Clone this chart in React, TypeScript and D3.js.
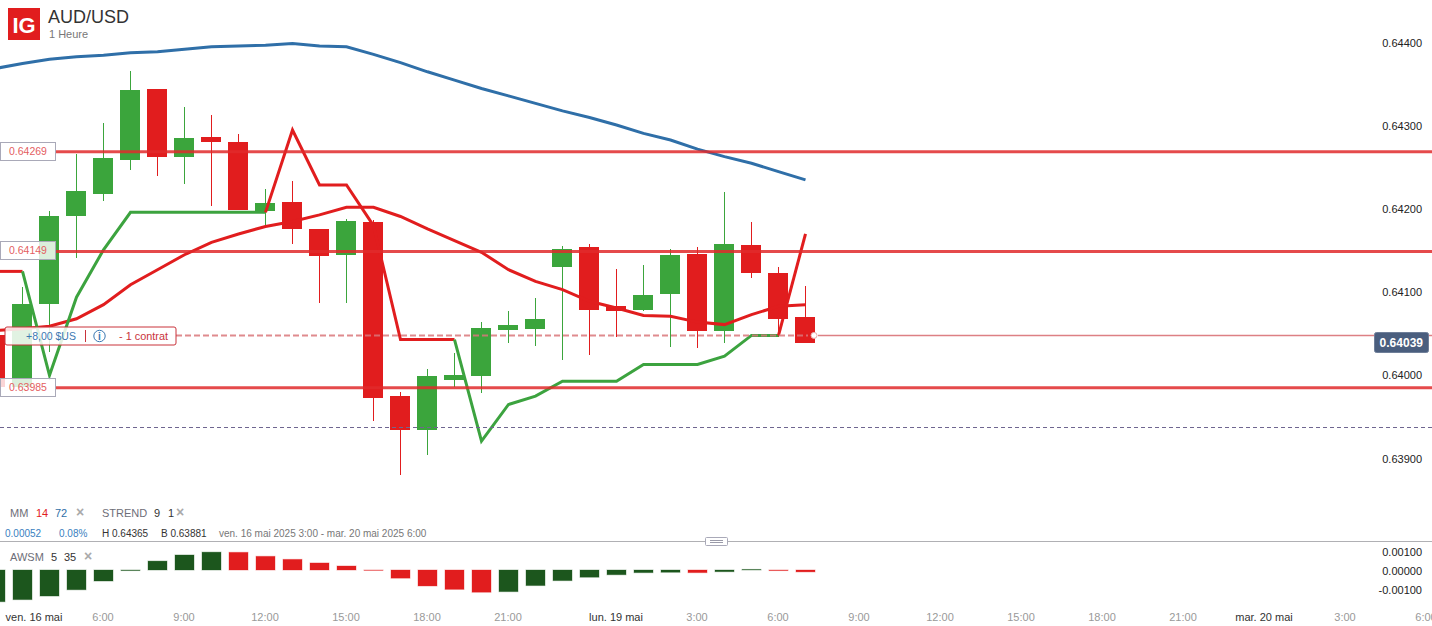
import * as d3 from "d3";

const FONT = "Arial, 'Liberation Sans', sans-serif";
const GREEN = "#3ba53c";
const RED = "#e11d1e";
const BLUE = "#2f6fa8";
const DARKGREEN = "#1c561d";

// hourly candles, first one (index -1) is cut by the left edge
const firstIndex = -1;
const opens = [0.64049, 0.63986, 0.64086, 0.64192, 0.64219, 0.64259, 0.64345, 0.64263, 0.64287, 0.64281, 0.64198, 0.64209, 0.64176, 0.64145, 0.64185, 0.63976, 0.63935, 0.63995, 0.64, 0.64055, 0.64056, 0.64131, 0.64155, 0.64084, 0.64079, 0.64098, 0.64146, 0.64054, 0.64157, 0.64124, 0.64071];
const closes = [0.63986, 0.64086, 0.64192, 0.64222, 0.64262, 0.64344, 0.64263, 0.64286, 0.64281, 0.64199, 0.64208, 0.64177, 0.64144, 0.64186, 0.63973, 0.63935, 0.64, 0.64001, 0.64058, 0.64061, 0.64068, 0.64152, 0.64079, 0.64078, 0.64097, 0.64145, 0.64054, 0.64158, 0.64124, 0.64068, 0.64039];
const highs = [0.64055, 0.64107, 0.64198, 0.64267, 0.64304, 0.64366, 0.64345, 0.64323, 0.64313, 0.64291, 0.64224, 0.64234, 0.64176, 0.64188, 0.64187, 0.6398, 0.64008, 0.64027, 0.64065, 0.64078, 0.64094, 0.64156, 0.64158, 0.64128, 0.64133, 0.64152, 0.64155, 0.64221, 0.64185, 0.64131, 0.64108];
const lows = [0.6398, 0.63979, 0.64029, 0.64142, 0.6421, 0.64247, 0.6424, 0.64231, 0.64204, 0.64199, 0.6418, 0.64158, 0.64088, 0.64088, 0.63945, 0.63881, 0.63905, 0.63987, 0.63979, 0.64039, 0.64036, 0.64019, 0.64025, 0.64047, 0.64078, 0.64035, 0.64033, 0.64039, 0.64118, 0.64047, 0.64039];

const mm14 = [0.64054, 0.64056, 0.64059, 0.64068, 0.64085, 0.64109, 0.64127, 0.64145, 0.6416, 0.6417, 0.64179, 0.64185, 0.64193, 0.64202, 0.64202, 0.64191, 0.64176, 0.64162, 0.64148, 0.64127, 0.64113, 0.64103, 0.64089, 0.64081, 0.64072, 0.64071, 0.64064, 0.64061, 0.64073, 0.64083, 0.64085];
const mm72 = [0.64369, 0.64375, 0.6438, 0.64383, 0.64385, 0.64388, 0.64389, 0.64392, 0.64395, 0.64396, 0.64397, 0.64399, 0.64396, 0.64395, 0.64386, 0.64376, 0.64365, 0.64355, 0.64345, 0.64336, 0.64327, 0.64318, 0.6431, 0.64301, 0.64291, 0.64283, 0.64272, 0.64263, 0.64255, 0.64245, 0.64235];
const strend = [0.64125, 0.64125, 0.64, 0.64094, 0.64151, 0.64196, 0.64196, 0.64196, 0.64196, 0.64196, 0.64196, 0.64295, 0.64229, 0.64229, 0.6418, 0.64043, 0.64043, 0.64043, 0.63921, 0.63965, 0.63975, 0.63993, 0.63993, 0.63993, 0.64013, 0.64013, 0.64013, 0.64023, 0.64048, 0.64048, 0.6417];
const strendUp = [0, 0, 1, 1, 1, 1, 1, 1, 1, 1, 1, 0, 0, 0, 0, 0, 0, 0, 1, 1, 1, 1, 1, 1, 1, 1, 1, 1, 1, 1, 0];

const awsm = [-0.00167, -0.00156, -0.00137, -0.00104, -0.00058, -0.00003, 0.00047, 0.00079, 0.00094, 0.00093, 0.00072, 0.00056, 0.00037, 0.00021, -0.00002, -0.00043, -0.00084, -0.00102, -0.00117, -0.00114, -0.00082, -0.00056, -0.00038, -0.00025, -0.00014, -0.00012, -0.00014, -0.00009, 0.00003, -0.00003, -0.0001];

const priceTicks = [0.644, 0.643, 0.642, 0.641, 0.64, 0.639];
const awsmTicks = [0.001, 0, -0.001];
const levels = [0.64269, 0.64149, 0.63985];
const lastPrice = 0.64039;
const positionPrice = 0.64048;
const lowerGuide = 0.63938;

const timeLabels = ["ven. 16 mai", "6:00", "9:00", "12:00", "15:00", "18:00", "21:00", "lun. 19 mai", "3:00", "6:00", "9:00", "12:00", "15:00", "18:00", "21:00", "mar. 20 mai", "3:00", "6:00"];
const timeIndex = [0, 3, 6, 9, 12, 15, 18, 22, 25, 28, 31, 34, 37, 40, 43, 46, 49, 52];

const x = d3.scaleLinear().domain([0, 52]).range([22, 22 + 27 * 52]);
const y = d3.scaleLinear().domain([0.644, 0.639]).range([42.7, 458.5]);
const yA = d3.scaleLinear().domain([0.001, -0.001]).range([551, 589]);

// candle edges sit on whole pixels
const snap = (p: number) => Math.round(y(p) + 0.4);

const lineAt = (vals: number[], start = 0) =>
  d3
    .line<number>()
    .x((_, i) => x(i + start + firstIndex) + 0.5)
    .y((d) => y(d))(vals) as string;

export default function App() {
  // group same colour runs so the joins stay clean
  const runs: { vals: number[]; start: number; up: boolean }[] = [];
  strend.slice(1).forEach((v, i) => {
    const up = strendUp[i + 1] === 1;
    const last = runs[runs.length - 1];
    if (last && last.up === up) last.vals.push(v);
    else runs.push({ vals: [strend[i], v], start: i, up });
  });

  return (
    <svg
      width={1432}
      height={626}
      style={{ position: "fixed", left: 0, top: 0, background: "#fff" }}
      fontFamily={FONT}
    >
      {/* candles */}
      {opens.map((o, i) => {
        const c = closes[i];
        const cx = x(i + firstIndex);
        const col = c > o ? GREEN : RED;
        const top = snap(Math.max(o, c));
        const bot = snap(Math.min(o, c));
        return (
          <g key={i}>
            <line x1={cx + 0.5} x2={cx + 0.5} y1={snap(highs[i])} y2={snap(lows[i])} stroke={col} strokeWidth={1} />
            <rect x={cx - 10} y={top} width={20} height={bot - top} fill={col} />
          </g>
        );
      })}

      {/* moving averages and supertrend */}
      <path d={lineAt(mm72)} fill="none" stroke={BLUE} strokeWidth={3} />
      <path d={lineAt(mm14)} fill="none" stroke={RED} strokeWidth={3} />
      {runs.map((r, i) => (
        <path key={i} d={lineAt(r.vals, r.start)} fill="none" stroke={r.up ? "#3ca33f" : RED} strokeWidth={3} />
      ))}

      {/* horizontal levels */}
      {levels.map((l) => (
        <line key={l} x1={56} x2={1432} y1={y(l)} y2={y(l)} stroke="#e02a2c" strokeOpacity={0.85} strokeWidth={3} />
      ))}
      <line x1={0} x2={1432} y1={Math.round(y(lowerGuide)) + 0.5} y2={Math.round(y(lowerGuide)) + 0.5} stroke="#6f6690" strokeWidth={1} strokeDasharray="4 3" />
      <line x1={176} x2={808} y1={y(positionPrice)} y2={y(positionPrice)} stroke="#d9777a" strokeOpacity={0.85} strokeWidth={2} strokeDasharray="6 3" />
      <line x1={818} x2={1432} y1={y(positionPrice)} y2={y(positionPrice)} stroke="#dd8084" strokeWidth={1.5} />
      <circle cx={814} cy={y(positionPrice)} r={3} fill="#fff" stroke="#e9a9ab" strokeWidth={1} />

      {/* level tags */}
      {levels.map((l) => (
        <g key={l}>
          <rect x={0.5} y={Math.round(y(l)) - 9.5} width={55} height={18} fill="#fff" fillOpacity={0.82} stroke="#a9a9b8" strokeWidth={1} />
          <text x={9} y={Math.round(y(l)) + 3} fontSize={10.5} fill="#e4605f">
            {l.toFixed(5)}
          </text>
        </g>
      ))}

      {/* position tag */}
      <rect x={5} y={327} width={171} height={18} rx={2} fill="#fff" fillOpacity={0.85} stroke="#c9333b" strokeWidth={1} />
      <text x={26} y={340} fontSize={10.5} fill="#3a78b2">+8,00 $US</text>
      <line x1={85.5} x2={85.5} y1={330} y2={342} stroke="#c9333b" strokeWidth={1} />
      <circle cx={99.5} cy={336} r={5.7} fill="none" stroke="#3a78b2" strokeWidth={1} />
      <text x={99.5} y={340} fontSize={10} fontWeight={700} textAnchor="middle" fill="#3a78b2">i</text>
      <text x={119} y={340} fontSize={10.9} fill="#c9333b">- 1 contrat</text>

      {/* header */}
      <rect x={8} y={8} width={32} height={32} fill={RED} />
      <text x={24} y={33} fontSize={22} fontWeight={700} fill="#fff" textAnchor="middle">IG</text>
      <text x={48} y={23} fontSize={18} fill="#333">AUD/USD</text>
      <text x={49} y={38} fontSize={11} fill="#777">1 Heure</text>

      {/* price axis */}
      {priceTicks.map((t) => (
        <text key={t} x={1422} y={y(t) + 4} fontSize={11} textAnchor="end" fill="#222">
          {t.toFixed(5)}
        </text>
      ))}
      <rect x={1374.5} y={332.5} width={54} height={20} rx={2} fill="#4a5e7e" stroke="#6f7f99" />
      <text x={1423} y={347} fontSize={12} fontWeight={700} textAnchor="end" fill="#fff">{lastPrice.toFixed(5)}</text>

      {/* legend */}
      <g fontSize={11}>
        <text x={10} y={517} fill="#6e6e78">MM</text>
        <text x={36} y={517} fill={RED}>14</text>
        <text x={55} y={517} fill={BLUE}>72</text>
        <text x={76} y={517} fontSize={14} fontWeight={700} fill="#aaa">×</text>
        <text x={102} y={517} fill="#6e6e78">STREND</text>
        <text x={154} y={517} fill="#333">9</text>
        <text x={168} y={517} fill="#333">1</text>
        <text x={176} y={517} fontSize={14} fontWeight={700} fill="#aaa">×</text>
      </g>
      <g fontSize={10}>
        <text x={5} y={537} fill="#3a7fc0">0.00052</text>
        <text x={59} y={537} fill="#3a7fc0">0.08%</text>
        <text x={102} y={537} fill="#333">H 0.64365</text>
        <text x={161} y={537} fill="#333">B 0.63881</text>
        <text x={219} y={537} fill="#777">ven. 16 mai 2025 3:00 - mar. 20 mai 2025 6:00</text>
      </g>

      {/* panel divider */}
      <line x1={0} x2={1432} y1={541.5} y2={541.5} stroke="#b0b0b4" />
      <rect x={705.5} y={537.5} width={22} height={8} rx={1} fill="#fff" stroke="#a9a9b8" />
      <line x1={710} x2={723} y1={540.5} y2={540.5} stroke="#9a9aa8" />
      <line x1={710} x2={723} y1={542.5} y2={542.5} stroke="#9a9aa8" />

      {/* oscillator */}
      <text x={10} y={561} fontSize={11} fill="#6e6e78">AWSM</text>
      <text x={51} y={561} fontSize={11} fill="#333">5</text>
      <text x={64} y={561} fontSize={11} fill="#333">35</text>
      <text x={84} y={561} fontSize={14} fontWeight={700} fill="#aaa">×</text>
      {awsm.map((v, i) => {
        const up = i === 0 || v > awsm[i - 1];
        const top = yA(Math.max(v, 0));
        const bot = yA(Math.min(v, 0));
        return (
          <rect
            key={i}
            x={x(i + firstIndex) - 9}
            y={top}
            width={19}
            height={bot - top}
            fill={up ? DARKGREEN : RED}
            stroke={up ? DARKGREEN : RED}
            strokeOpacity={0.35}
            strokeWidth={1}
          />
        );
      })}
      {awsmTicks.map((t) => (
        <text key={t} x={1422} y={yA(t) + 5} fontSize={11} textAnchor="end" fill="#222">
          {t.toFixed(5)}
        </text>
      ))}

      {/* time axis */}
      {timeLabels.map((l, i) => {
        const isDate = l.includes("mai");
        return (
          <text
            key={i}
            x={i === 0 ? 34 : x(timeIndex[i])}
            y={621}
            fontSize={11}
            textAnchor="middle"
            fill={isDate ? "#333" : "#999"}
          >
            {l}
          </text>
        );
      })}
    </svg>
  );
}
